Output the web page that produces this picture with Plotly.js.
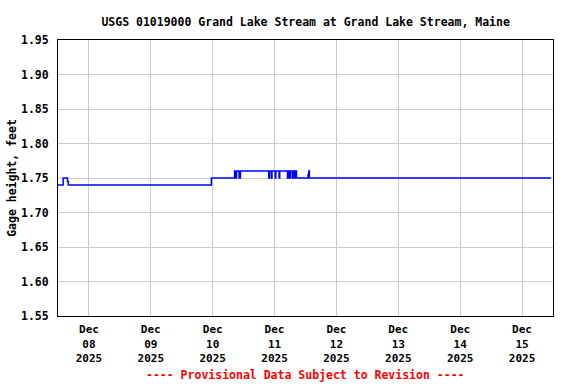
<!DOCTYPE html>
<html>
<head>
<meta charset="utf-8">
<script src="https://cdn.plot.ly/plotly-3.0.1.min.js"></script>
<style>html,body{margin:0;padding:0;background:#fff;}#chart{width:576px;height:384px;}</style>
</head>
<body>
<div id="chart"></div>
<script>
// Gage height readings (change points, drawn as steps)
var times = [
  "2025-12-07 12:00", "2025-12-07 14:00", "2025-12-07 15:40", "2025-12-07 16:00",
  "2025-12-09 23:30",
  "2025-12-10 08:30", "2025-12-10 09:00", "2025-12-10 09:15", "2025-12-10 10:15", "2025-12-10 10:45",
  "2025-12-10 21:45", "2025-12-10 22:00", "2025-12-10 22:45", "2025-12-10 23:00",
  "2025-12-11 00:15", "2025-12-11 00:30", "2025-12-11 01:45", "2025-12-11 02:00",
  "2025-12-11 05:00", "2025-12-11 05:15", "2025-12-11 05:30", "2025-12-11 05:45", "2025-12-11 06:00", "2025-12-11 06:15",
  "2025-12-11 07:00", "2025-12-11 07:15", "2025-12-11 07:30", "2025-12-11 07:45", "2025-12-11 08:00", "2025-12-11 08:15", "2025-12-11 08:30",
  "2025-12-11 13:00", "2025-12-11 13:15", "2025-12-11 13:30",
  "2025-12-15 11:15"
];
var gageHeight = [
  1.74, 1.75, 1.745, 1.74,
  1.75,
  1.76, 1.75, 1.76, 1.75, 1.76,
  1.75, 1.76, 1.75, 1.76,
  1.75, 1.76, 1.75, 1.76,
  1.75, 1.76, 1.75, 1.76, 1.75, 1.76,
  1.75, 1.76, 1.75, 1.76, 1.75, 1.76, 1.75,
  1.755, 1.76, 1.75,
  1.75
];
var tickDates = ["2025-12-08", "2025-12-09", "2025-12-10", "2025-12-11", "2025-12-12", "2025-12-13", "2025-12-14", "2025-12-15"];
var tickLabels = ["Dec<br>08<br>2025", "Dec<br>09<br>2025", "Dec<br>10<br>2025", "Dec<br>11<br>2025", "Dec<br>12<br>2025", "Dec<br>13<br>2025", "Dec<br>14<br>2025", "Dec<br>15<br>2025"];
var yTicks = [1.55, 1.60, 1.65, 1.70, 1.75, 1.80, 1.85, 1.90, 1.95];
var yTickLabels = ["1.55", "1.60", "1.65", "1.70", "1.75", "1.80", "1.85", "1.90", "1.95"];

var mono = "DejaVu Sans Mono, monospace";

var trace = {
  x: times, y: gageHeight, type: "scatter", mode: "lines",
  line: {color: "#0000ff", width: 1.5, shape: "hv"},
  hoverinfo: "skip"
};

var layout = {
  width: 576, height: 384,
  margin: {l: 58, r: 23, t: 40, b: 68, pad: 0},
  paper_bgcolor: "#ffffff", plot_bgcolor: "#ffffff",
  showlegend: false,
  font: {family: mono, color: "#000", size: 11, weight: "bold"},
  title: {text: "USGS 01019000 Grand Lake Stream at Grand Lake Stream, Maine",
          font: {family: mono, size: 11.5, color: "#000", weight: "bold"},
          x: 0.5306, xanchor: "center", y: 0.942, yanchor: "middle"},
  xaxis: {
    type: "date",
    range: ["2025-12-07 12:00", "2025-12-15 12:00"],
    tickmode: "array", tickvals: tickDates, ticktext: tickLabels,
    tickfont: {family: mono, size: 11, color: "#000", weight: "bold"},
    showgrid: true, gridcolor: "#cccccc", gridwidth: 1,
    showline: true, linecolor: "#000", linewidth: 1, mirror: true,
    ticks: "outside", ticklen: 3, tickcolor: "rgba(0,0,0,0)",
    zeroline: false, fixedrange: true
  },
  yaxis: {
    range: [1.55, 1.95],
    tickmode: "array", tickvals: yTicks, ticktext: yTickLabels,
    tickfont: {family: mono, size: 11.5, color: "#000", weight: "bold"},
    showgrid: true, gridcolor: "#cccccc", gridwidth: 1,
    showline: true, linecolor: "#000", linewidth: 1, mirror: true,
    ticks: "outside", ticklen: 6, tickcolor: "rgba(0,0,0,0)",
    zeroline: false, fixedrange: true,
    title: {text: "Gage height, feet", font: {family: mono, size: 11.5, color: "#000", weight: "bold"}, standoff: 1}
  },
  annotations: [{
    text: "---- Provisional Data Subject to Revision ----",
    xref: "paper", yref: "paper", x: 0.499, y: -0.2138, xanchor: "center", yanchor: "middle",
    showarrow: false,
    font: {family: mono, size: 11.5, color: "#ff0000", weight: "bold"}
  }]
};

Plotly.newPlot("chart", [trace], layout, {displayModeBar: false, staticPlot: true});
</script>
</body>
</html>
